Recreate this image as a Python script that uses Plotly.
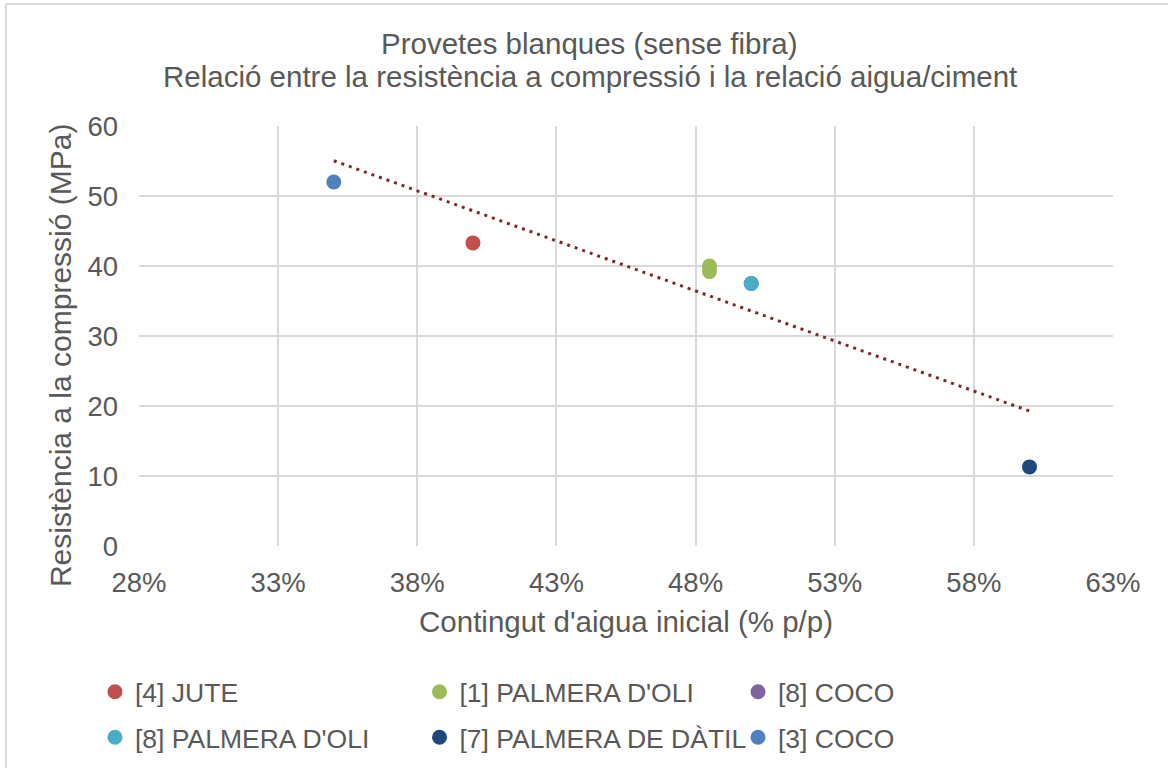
import numpy as np
import plotly.graph_objects as go

# Water content (fraction, w/w) and compressive strength (MPa) per fibre source
jute_x = [0.40]
jute_y = [43.3]
palm1_x = [0.485, 0.485]
palm1_y = [40.0, 39.2]
coco8_x = [0.50]
coco8_y = [37.5]
palm8_x = [0.50]
palm8_y = [37.5]
date7_x = [0.60]
date7_y = [11.3]
coco3_x = [0.35]
coco3_y = [52.0]

series_names = ["[4] JUTE", "[1] PALMERA D'OLI", "[8] COCO",
                "[8] PALMERA D'OLI", "[7] PALMERA DE DÀTIL", "[3] COCO"]
series_colors = ["#C0504D", "#9BBB59", "#8064A2", "#4BACC6", "#1F497D", "#4F81BD"]
series_x = [jute_x, palm1_x, coco8_x, palm8_x, date7_x, coco3_x]
series_y = [jute_y, palm1_y, coco8_y, palm8_y, date7_y, coco3_y]
series_legend = ["legend", "legend2", "legend3", "legend", "legend2", "legend3"]

x_ticks = [0.28, 0.33, 0.38, 0.43, 0.48, 0.53, 0.58, 0.63]
y_ticks = [0, 10, 20, 30, 40, 50, 60]

TEXT = "#595959"
GRID = "#D9D9D9"
FONT = "Liberation Sans, Arial, sans-serif"

fig = go.Figure()

# Linear trend over the measured points
all_x = np.concatenate([np.array(v, dtype=float) for v in series_x])
all_y = np.concatenate([np.array(v, dtype=float) for v in series_y])
slope, intercept = np.polyfit(all_x, all_y, 1)
tx = np.array([all_x.min(), all_x.max()])
fig.add_trace(go.Scatter(
    x=tx, y=slope * tx + intercept, mode="lines",
    line=dict(color="#7B2B2B", width=3, dash="3px,5px"),
    showlegend=False, hoverinfo="skip"))

for name, color, xs, ys, lg in zip(series_names, series_colors, series_x, series_y, series_legend):
    fig.add_trace(go.Scatter(
        x=xs, y=ys, mode="markers", name=name, legend=lg, legendgroup=name,
        marker=dict(color=color, size=15)))

legend_common = dict(
    font=dict(family=FONT, size=26.5, color=TEXT),
    orientation="v", xanchor="left", yanchor="top",
    tracegroupgap=8, itemwidth=30, bgcolor="rgba(0,0,0,0)")

fig.update_layout(
    width=1168, height=768,
    margin=dict(l=139, r=55, t=126, b=222, autoexpand=False),
    paper_bgcolor="white", plot_bgcolor="white",
    font=dict(family=FONT, color=TEXT, size=27),
    showlegend=True,
    legend=dict(x=-0.0452, y=-0.2905, **legend_common),
    legend2=dict(x=0.2880, y=-0.2905, **legend_common),
    legend3=dict(x=0.6150, y=-0.2905, **legend_common),
    xaxis=dict(
        range=[0.28, 0.63], tickvals=x_ticks, tickformat=".0%",
        showgrid=True, gridcolor=GRID, gridwidth=2, zeroline=False,
        showline=False, ticks="", ticklabelstandoff=17,
        tickfont=dict(size=27.5, color=TEXT),
        title=dict(text="Contingut d'aigua inicial (% p/p)",
                   font=dict(size=29.5, color=TEXT), standoff=14)),
    yaxis=dict(
        range=[0, 60], tickvals=y_ticks,
        showgrid=True, gridcolor=GRID, gridwidth=2, zeroline=False,
        showline=False, ticks="", ticklabelstandoff=20,
        tickfont=dict(size=27.5, color=TEXT)),
    annotations=[
        dict(text="Provetes blanques (sense fibra)", xref="paper", yref="paper",
             x=0.463, y=1.1976, xanchor="center", yanchor="middle", showarrow=False,
             font=dict(size=29.5, color=TEXT)),
        dict(text="Relació entre la resistència a compressió i la relació aigua/ciment",
             xref="paper", yref="paper", x=0.463, y=1.1167, xanchor="center",
             yanchor="middle", showarrow=False, font=dict(size=29.5, color=TEXT)),
        dict(text="Resistència a la compressió (MPa)", xref="paper", yref="paper",
             x=-0.080, y=0.4548, xanchor="center", yanchor="middle", textangle=-90,
             showarrow=False, font=dict(size=30, color=TEXT)),
    ],
    shapes=[
        dict(type="line", xref="paper", yref="paper", x0=-0.1366, x1=1.2,
             y0=1.2905, y1=1.2905, line=dict(color=GRID, width=2), layer="below"),
        dict(type="line", xref="paper", yref="paper", x0=-0.1366, x1=-0.1366,
             y0=1.2905, y1=-0.6, line=dict(color=GRID, width=2), layer="below"),
    ],
)

fig.write_html("out.html")
